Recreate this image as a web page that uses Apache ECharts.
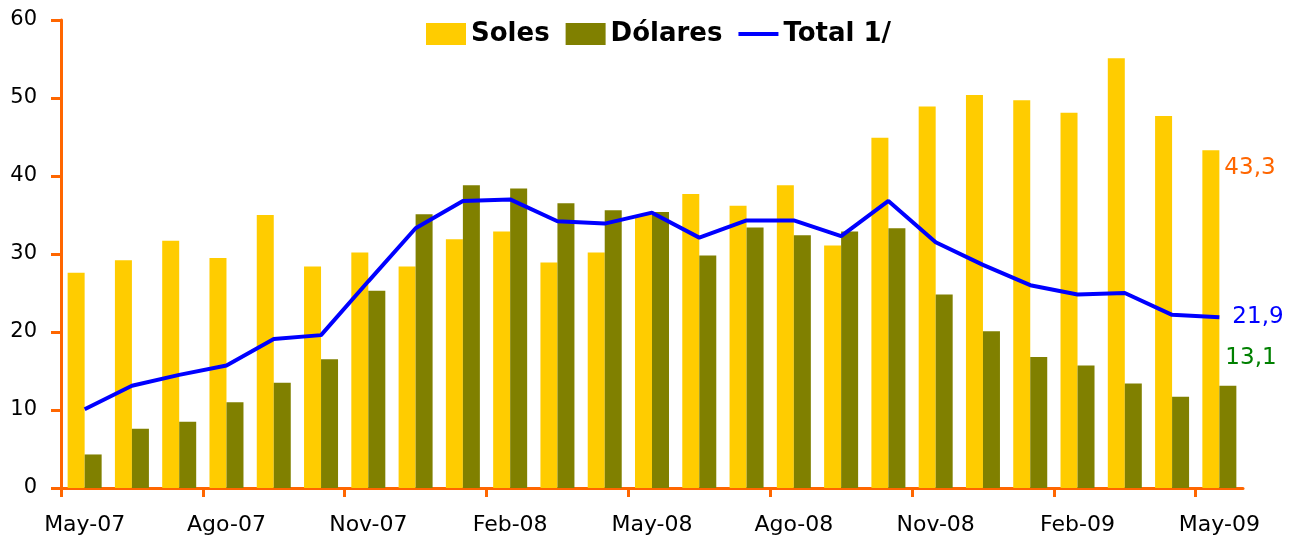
<!DOCTYPE html>
<html>
<head>
<meta charset="utf-8">
<script src="https://cdn.jsdelivr.net/npm/echarts@6/dist/echarts.min.js"></script>
<style>
html,body{margin:0;padding:0;background:#fff;}
#chart{width:1289px;height:539px;}
</style>
</head>
<body>
<div id="chart"></div>
<script>
var months = ['May-07','Jun-07','Jul-07','Ago-07','Set-07','Oct-07','Nov-07','Dic-07','Ene-08','Feb-08','Mar-08','Abr-08','May-08','Jun-08','Jul-08','Ago-08','Set-08','Oct-08','Nov-08','Dic-08','Ene-09','Feb-09','Mar-09','Abr-09','May-09'];
var soles = [27.6, 29.2, 31.7, 29.5, 35.0, 28.4, 30.2, 28.4, 31.9, 32.9, 28.9, 30.2, 35.0, 37.7, 36.2, 38.8, 31.1, 44.9, 48.9, 50.4, 49.7, 48.1, 55.1, 47.7, 43.3];
var dolares = [4.3, 7.6, 8.5, 11.0, 13.5, 16.5, 25.3, 35.1, 38.8, 38.4, 36.5, 35.6, 35.4, 29.8, 33.4, 32.4, 32.9, 33.3, 24.8, 20.1, 16.8, 15.7, 13.4, 11.7, 13.1];
var total = [10.1, 13.1, 14.5, 15.7, 19.1, 19.6, 26.5, 33.3, 36.8, 37.0, 34.2, 33.9, 35.3, 32.1, 34.3, 34.3, 32.3, 36.8, 31.5, 28.6, 26.0, 24.8, 25.0, 22.2, 21.9];
// month boundaries (for the quarterly tick marks between bars)
var boundaries = months.concat(['']);

function fmt(v){ return v.toFixed(1).replace('.', ','); }
var font = 'DejaVu Sans';
var last = months.length - 1;

var solesData = soles.map(function(v, i){
  if (i !== last) return v;
  return {value: v, label: {show: true, position: [22, 18], align: 'left', verticalAlign: 'middle',
    formatter: function(p){ return fmt(p.value); }, color: '#FF6600', fontSize: 23, fontFamily: font}};
});
var dolData = dolares.map(function(v, i){
  if (i !== last) return v;
  return {value: v, label: {show: true, position: [6, -28], align: 'left', verticalAlign: 'middle',
    formatter: function(p){ return fmt(p.value); }, color: '#008000', fontSize: 23, fontFamily: font}};
});

var chart = echarts.init(document.getElementById('chart'), null, {renderer: 'canvas'});
chart.setOption({
  animation: false,
  backgroundColor: '#ffffff',
  grid: {left: 61, right: 46, top: 20, bottom: 51, containLabel: false},
  legend: {
    left: 421, top: 16,
    itemWidth: 40, itemHeight: 22, itemGap: 16,
    icon: 'rect',
    textStyle: {fontFamily: font, fontSize: 26, fontWeight: 'bold', color: '#000'},
    data: [
      {name: 'Soles', icon: 'rect'},
      {name: 'Dólares', icon: 'rect'},
      {name: 'Total 1/', icon: 'path://M0,0 L40,0 L40,4 L0,4 Z'}
    ]
  },
  xAxis: [{
    type: 'category',
    data: months,
    boundaryGap: true,
    axisLine: {lineStyle: {color: '#FF6600', width: 3}},
    axisTick: {show: false},
    axisLabel: {interval: 2, margin: 26, color: '#000', fontFamily: font, fontSize: 22},
    splitLine: {show: false}
  }, {
    type: 'category',
    data: boundaries,
    position: 'bottom',
    boundaryGap: false,
    axisLine: {show: false},
    axisTick: {show: true, interval: 2, length: 9, lineStyle: {color: '#FF6600', width: 3}},
    axisLabel: {show: false},
    splitLine: {show: false}
  }],
  yAxis: {
    type: 'value',
    min: 0, max: 60, interval: 10,
    axisLine: {show: true, lineStyle: {color: '#FF6600', width: 3}},
    axisTick: {show: true, length: 10, lineStyle: {color: '#FF6600', width: 3}},
    axisLabel: {margin: 24, color: '#000', fontFamily: font, fontSize: 21},
    splitLine: {show: false}
  },
  series: [
    {name: 'Soles', type: 'bar', data: solesData, barWidth: 17, barGap: '0%',
      itemStyle: {color: '#FFCC00'}},
    {name: 'Dólares', type: 'bar', data: dolData, barWidth: 17, barGap: '0%',
      itemStyle: {color: '#808000'}},
    {name: 'Total 1/', type: 'line', data: total, symbol: 'none', z: 5,
      lineStyle: {color: '#0000FF', width: 4}, itemStyle: {color: '#0000FF'},
      endLabel: {show: true, distance: 13, formatter: function(p){ return fmt(p.value); },
        color: '#0000FF', fontSize: 23, fontFamily: font}}
  ]
});
</script>
</body>
</html>
